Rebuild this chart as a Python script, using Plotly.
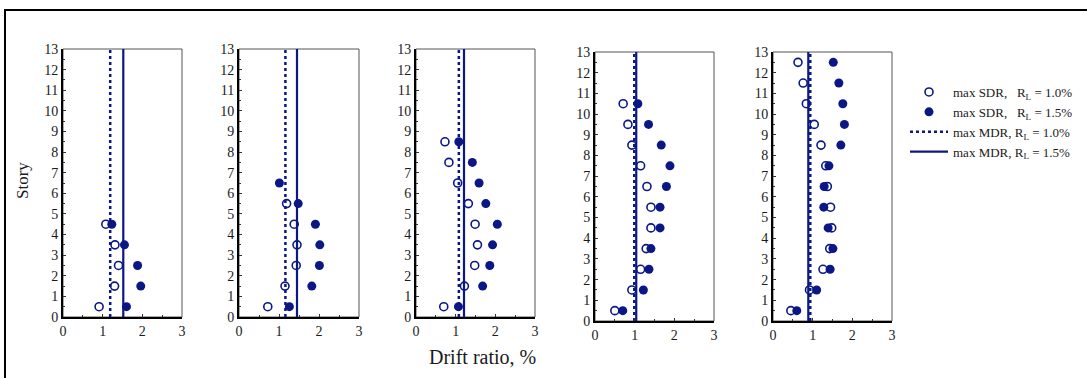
import plotly.graph_objects as go

# ---------------- data ----------------
# Panel 1 (4 stories)
p1_story_open = [4.5, 3.5, 2.5, 1.5, 0.5]
p1_sdr_10 = [1.08, 1.31, 1.40, 1.30, 0.91]
p1_story_fill = [4.5, 3.5, 2.5, 1.5, 0.5]
p1_sdr_15 = [1.23, 1.55, 1.88, 1.96, 1.60]
p1_mdr_10 = 1.19
p1_mdr_15 = 1.52

# Panel 2
p2_story_open = [5.5, 4.5, 3.5, 2.5, 1.5, 0.5]
p2_sdr_10 = [1.19, 1.38, 1.45, 1.43, 1.15, 0.72]
p2_story_fill = [6.5, 5.5, 4.5, 3.5, 2.5, 1.5, 0.5]
p2_sdr_15 = [1.01, 1.48, 1.91, 2.02, 2.01, 1.82, 1.26]
p2_mdr_10 = 1.16
p2_mdr_15 = 1.45

# Panel 3
p3_story_open = [8.5, 7.5, 6.5, 5.5, 4.5, 3.5, 2.5, 1.5, 0.5]
p3_sdr_10 = [0.73, 0.83, 1.05, 1.32, 1.49, 1.55, 1.48, 1.22, 0.70]
p3_story_fill = [8.5, 7.5, 6.5, 5.5, 4.5, 3.5, 2.5, 1.5, 0.5]
p3_sdr_15 = [1.08, 1.42, 1.59, 1.76, 2.05, 1.93, 1.86, 1.68, 1.07]
p3_mdr_10 = 1.08
p3_mdr_15 = 1.21

# Panel 4
p4_story_open = [10.5, 9.5, 8.5, 7.5, 6.5, 5.5, 4.5, 3.5, 2.5, 1.5, 0.5]
p4_sdr_10 = [0.71, 0.83, 0.93, 1.15, 1.31, 1.41, 1.41, 1.29, 1.15, 0.93, 0.50]
p4_story_fill = [10.5, 9.5, 8.5, 7.5, 6.5, 5.5, 4.5, 3.5, 2.5, 1.5, 0.5]
p4_sdr_15 = [1.08, 1.35, 1.67, 1.89, 1.80, 1.64, 1.64, 1.41, 1.36, 1.22, 0.70]
p4_mdr_10 = 0.99
p4_mdr_15 = 1.04

# Panel 5
p5_story_open = [12.5, 11.5, 10.5, 9.5, 8.5, 7.5, 6.5, 5.5, 4.5, 3.5, 2.5, 1.5, 0.5]
p5_sdr_10 = [0.63, 0.76, 0.84, 1.04, 1.21, 1.33, 1.37, 1.45, 1.48, 1.43, 1.26, 0.92, 0.45]
p5_story_fill = [12.5, 11.5, 10.5, 9.5, 8.5, 7.5, 6.5, 5.5, 4.5, 3.5, 2.5, 1.5, 0.5]
p5_sdr_15 = [1.52, 1.66, 1.76, 1.80, 1.71, 1.41, 1.29, 1.28, 1.39, 1.51, 1.44, 1.10, 0.60]
p5_mdr_10 = 0.94
p5_mdr_15 = 0.89

x_range = [0, 3]
y_range = [0, 13]
x_ticks = [0, 1, 2, 3]
y_ticks = list(range(0, 14))

legend_names = [
    "max SDR,\u00a0\u00a0\u00a0R<sub>L</sub> = 1.0%",
    "max SDR,\u00a0\u00a0\u00a0R<sub>L</sub> = 1.5%",
    "max MDR, R<sub>L</sub> = 1.0%",
    "max MDR, R<sub>L</sub> = 1.5%",
]

panels = [
    (p1_story_open, p1_sdr_10, p1_story_fill, p1_sdr_15, p1_mdr_10, p1_mdr_15),
    (p2_story_open, p2_sdr_10, p2_story_fill, p2_sdr_15, p2_mdr_10, p2_mdr_15),
    (p3_story_open, p3_sdr_10, p3_story_fill, p3_sdr_15, p3_mdr_10, p3_mdr_15),
    (p4_story_open, p4_sdr_10, p4_story_fill, p4_sdr_15, p4_mdr_10, p4_mdr_15),
    (p5_story_open, p5_sdr_10, p5_story_fill, p5_sdr_15, p5_mdr_10, p5_mdr_15),
]

# ---------------- layout geometry (pixels) ----------------
W, H = 1087, 378
boxes = [  # left, right, top, bottom in px
    (63, 182, 49, 317),
    (239, 359, 49, 317),
    (416, 535, 49, 317),
    (595, 714, 52, 321),
    (773, 892, 52, 321),
]

NAVY = "#0b1785"
TXT = "#1a1a1a"
FONT = "Liberation Serif, Times New Roman, serif"

fig = go.Figure()

for i, (so, s10, sf, s15, m10, m15) in enumerate(panels):
    n = i + 1
    xa = "x" if n == 1 else f"x{n}"
    ya = "y" if n == 1 else f"y{n}"
    show = (n == 1)
    fig.add_trace(go.Scatter(x=[m10, m10], y=y_range, mode="lines",
                             line=dict(color=NAVY, width=2.5, dash="dot"),
                             name=legend_names[2], legendrank=3, showlegend=show,
                             xaxis=xa, yaxis=ya))
    fig.add_trace(go.Scatter(x=[m15, m15], y=y_range, mode="lines",
                             line=dict(color=NAVY, width=2.2),
                             name=legend_names[3], legendrank=4, showlegend=show,
                             xaxis=xa, yaxis=ya))
    fig.add_trace(go.Scatter(x=s10, y=so, mode="markers",
                             marker=dict(symbol="circle-open", size=8, color=NAVY,
                                         line=dict(width=1.6, color=NAVY)),
                             name=legend_names[0], legendrank=1, showlegend=show,
                             xaxis=xa, yaxis=ya))
    fig.add_trace(go.Scatter(x=s15, y=sf, mode="markers",
                             marker=dict(symbol="circle", size=9, color=NAVY),
                             name=legend_names[1], legendrank=2, showlegend=show,
                             xaxis=xa, yaxis=ya))

layout = dict(
    template="none",
    width=W, height=H,
    margin=dict(l=0, r=0, t=0, b=0, autoexpand=False),
    paper_bgcolor="white", plot_bgcolor="white",
    font=dict(family=FONT, size=13, color=TXT),
    legend=dict(x=905 / W, y=1 - 77 / H, xanchor="left", yanchor="top",
                font=dict(family=FONT, size=13, color=TXT),
                bgcolor="rgba(0,0,0,0)", tracegroupgap=0, itemwidth=38),
    shapes=[],
    annotations=[],
)

for i, (l, r, t, b) in enumerate(boxes):
    n = i + 1
    xk = "xaxis" if n == 1 else f"xaxis{n}"
    yk = "yaxis" if n == 1 else f"yaxis{n}"
    xa = "x" if n == 1 else f"x{n}"
    ya = "y" if n == 1 else f"y{n}"
    layout[xk] = dict(domain=[l / W, r / W], anchor=ya, range=x_range,
                      tickvals=x_ticks, ticks="inside", ticklen=3, tickwidth=1,
                      tickcolor="#333", automargin=False,
                      minor=dict(dtick=0.5, tick0=0, ticks="inside", ticklen=2,
                                 tickcolor="#333"),
                      showline=True, linecolor="black", linewidth=2,
                      showgrid=False, zeroline=False,
                      tickfont=dict(size=14, family=FONT, color=TXT))
    layout[yk] = dict(domain=[1 - b / H, 1 - t / H], anchor=xa, range=y_range,
                      tickvals=y_ticks, ticks="inside", ticklen=3, tickwidth=1,
                      tickcolor="#333", automargin=False,
                      minor=dict(dtick=0.5, tick0=0, ticks="inside", ticklen=2,
                                 tickcolor="#333"),
                      showline=True, linecolor="black", linewidth=2,
                      showgrid=False, zeroline=False,
                      tickfont=dict(size=14, family=FONT, color=TXT))
    layout["shapes"].append(dict(type="rect", xref=f"{xa} domain", yref=f"{ya} domain",
                                 x0=0, x1=1, y0=0, y1=1,
                                 line=dict(color="#555", width=1), layer="below"))

# outer frame (top and left edges visible)
layout["shapes"].append(dict(type="rect", xref="paper", yref="paper",
                             x0=5 / W, x1=1.05, y0=-0.1, y1=1 - 10 / H,
                             line=dict(color="black", width=2)))

layout["annotations"].append(dict(text="Story", xref="paper", yref="paper",
                                  x=22 / W, y=1 - 181 / H, showarrow=False,
                                  xanchor="center", yanchor="middle",
                                  textangle=-90, font=dict(size=17, family=FONT, color=TXT)))
layout["annotations"].append(dict(text="Drift ratio, %", xref="paper", yref="paper",
                                  x=482 / W, y=1 - 357 / H, showarrow=False,
                                  xanchor="center", yanchor="middle",
                                  font=dict(size=20, family=FONT, color=TXT)))

fig.update_layout(**layout)
fig.write_html("out.html", config={"displayModeBar": False},
               post_script="document.body.style.margin='0';document.body.style.overflow='hidden';")
